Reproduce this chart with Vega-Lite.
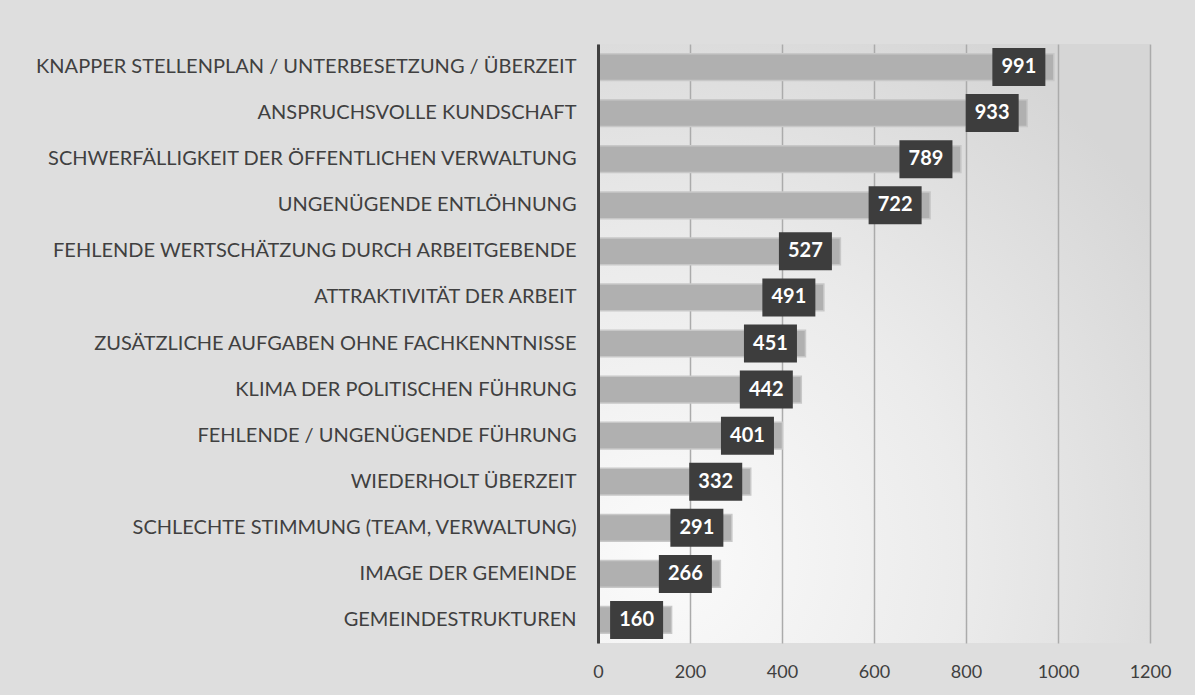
{
  "$schema": "https://vega.github.io/schema/vega-lite/v6.json",
  "autosize": {"type": "none"},
  "padding": {"left": 598, "top": 44, "right": 45, "bottom": 52},
  "width": 552,
  "height": 599,
  "background": "#dedede",
  "config": {
    "view": {
      "stroke": null,
      "fill": {
        "gradient": "radial",
        "x1": 0.15, "y1": 0.85, "r1": 0,
        "x2": 0.15, "y2": 0.85, "r2": 1.0,
        "stops": [
          {"offset": 0, "color": "#fbfbfb"},
          {"offset": 0.5, "color": "#ebebeb"},
          {"offset": 1, "color": "#d6d6d6"}
        ]
      }
    },
    "font": "Lato"
  },
  "data": {
    "values": [
      {"label": "KNAPPER STELLENPLAN / UNTERBESETZUNG / ÜBERZEIT", "value": 991},
      {"label": "ANSPRUCHSVOLLE KUNDSCHAFT", "value": 933},
      {"label": "SCHWERFÄLLIGKEIT DER ÖFFENTLICHEN VERWALTUNG ", "value": 789},
      {"label": "UNGENÜGENDE ENTLÖHNUNG", "value": 722},
      {"label": "FEHLENDE WERTSCHÄTZUNG DURCH ARBEITGEBENDE", "value": 527},
      {"label": "ATTRAKTIVITÄT DER ARBEIT ", "value": 491},
      {"label": "ZUSÄTZLICHE AUFGABEN OHNE FACHKENNTNISSE", "value": 451},
      {"label": "KLIMA DER POLITISCHEN FÜHRUNG", "value": 442},
      {"label": "FEHLENDE / UNGENÜGENDE FÜHRUNG", "value": 401},
      {"label": "WIEDERHOLT ÜBERZEIT", "value": 332},
      {"label": "SCHLECHTE STIMMUNG (TEAM, VERWALTUNG)", "value": 291},
      {"label": "IMAGE DER GEMEINDE", "value": 266},
      {"label": "GEMEINDESTRUKTUREN", "value": 160}
    ]
  },
  "encoding": {
    "y": {
      "field": "label",
      "type": "nominal",
      "sort": null,
      "scale": {"paddingInner": 0.42, "paddingOuter": 0.21},
      "axis": {
        "title": null,
        "ticks": false,
        "zindex": 1,
        "domainColor": "#404040",
        "domainWidth": 3,
        "labelPadding": 22,
        "labelFontSize": 20,
        "labelColor": "#404040",
        "labelFont": "Lato",
        "labelLimit": 0
      }
    },
    "x": {
      "field": "value",
      "type": "quantitative",
      "scale": {"domain": [0, 1200], "nice": false},
      "axis": {
        "title": null,
        "values": [0, 200, 400, 600, 800, 1000, 1200],
        "format": "d",
        "labelFlush": false,
        "grid": true,
        "gridColor": "#ababab",
        "gridWidth": 1.5,
        "domain": false,
        "ticks": false,
        "labelPadding": 20,
        "labelFontSize": 18,
        "labelColor": "#404040",
        "labelFont": "Lato"
      }
    }
  },
  "layer": [
    {
      "mark": {"type": "bar", "color": "#b0b0b0", "stroke": "#c8c8c8", "strokeWidth": 1.5}
    },
    {
      "mark": {
        "type": "point",
        "shape": "M-1,-0.717L1,-0.717L1,0.717L-1,0.717Z",
        "size": 2809,
        "filled": true,
        "opacity": 1,
        "color": "#3d3d3d",
        "xOffset": -35
      }
    },
    {
      "mark": {
        "type": "text",
        "color": "#ffffff",
        "fontWeight": "bold",
        "fontSize": 20,
        "font": "Lato",
        "xOffset": -35,
        "baseline": "middle",
        "align": "center"
      },
      "encoding": {"text": {"field": "value", "type": "quantitative"}}
    }
  ]
}
